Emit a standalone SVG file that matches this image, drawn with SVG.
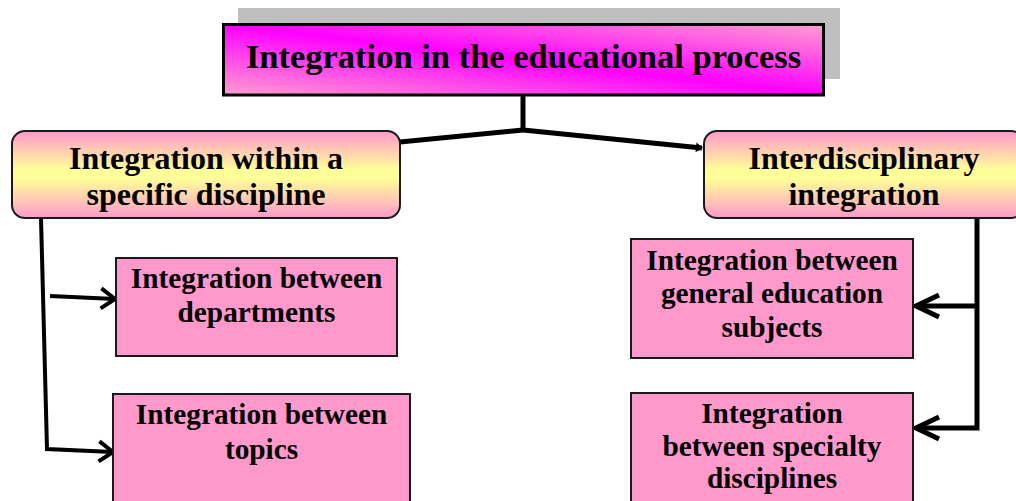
<svg xmlns="http://www.w3.org/2000/svg" width="1016" height="501" viewBox="0 0 1016 501">
  <style>
    text { font-family: "Liberation Serif", "Times New Roman", serif; font-weight: bold; fill: #000; text-anchor: middle; }
    .t-title { font-size: 34.5px; }
    .t-mid { font-size: 32px; }
    .t-low { font-size: 29.3px; }
    .box { fill: #ff99cc; stroke: #1a1a1a; stroke-width: 2; }
    .branch { fill: url(#yellowBand); stroke: #1a1a1a; stroke-width: 2; }
    .wire { fill: none; stroke: #000; stroke-linejoin: miter; stroke-linecap: butt; }
  </style>
  <defs>
    <linearGradient id="magentaCrease" x1="0" y1="1" x2="1" y2="0">
      <stop offset="0" stop-color="#ff9fcf"/>
      <stop offset="0.5" stop-color="#ff00ff"/>
      <stop offset="1" stop-color="#ff9fcf"/>
    </linearGradient>
    <linearGradient id="yellowBand" x1="0" y1="0" x2="0" y2="1">
      <stop offset="0" stop-color="#ff99cc"/>
      <stop offset="0.45" stop-color="#ffff99"/>
      <stop offset="0.55" stop-color="#ffff99"/>
      <stop offset="1" stop-color="#ff99cc"/>
    </linearGradient>
    <marker id="chevronSmall" markerUnits="userSpaceOnUse" markerWidth="40" markerHeight="40" viewBox="-20 -20 40 40" refX="0" refY="0" orient="auto" overflow="visible">
      <path d="M-14,-10 L0,0 L-14,10" fill="none" stroke="#000" stroke-width="4"/>
    </marker>
    <marker id="chevronLarge" markerUnits="userSpaceOnUse" markerWidth="50" markerHeight="50" viewBox="-25 -25 50 50" refX="0" refY="0" orient="auto" overflow="visible">
      <path d="M-23,-11 L0,0 L-23,11" fill="none" stroke="#000" stroke-width="5"/>
    </marker>
    <marker id="tip" markerUnits="userSpaceOnUse" markerWidth="12" markerHeight="12" viewBox="-8 -6 12 12" refX="0" refY="0" orient="auto" overflow="visible">
      <path d="M-6,-5 L1,0 L-6,5 Z" fill="#000"/>
    </marker>
  </defs>

  <!-- connectors -->
  <g id="connectors">
    <path class="wire" d="M523,95 L523,131" stroke-width="5"/>
    <path class="wire" d="M523,130 L400,142" stroke-width="5"/>
    <path class="wire" d="M523,130 L702,148" stroke-width="5" marker-end="url(#tip)"/>
    <path class="wire" d="M41,218 L47,449 L113,452" stroke-width="4" marker-end="url(#chevronSmall)"/>
    <path class="wire" d="M50,296 L115,299" stroke-width="4" marker-end="url(#chevronSmall)"/>
    <path class="wire" d="M977,218 L977,428 L916,428" stroke-width="5" marker-end="url(#chevronLarge)"/>
    <path class="wire" d="M977,306 L916,306" stroke-width="5" marker-end="url(#chevronLarge)"/>
  </g>

  <!-- root -->
  <g id="node-root">
    <rect x="238" y="8" width="602" height="71" fill="#bfbfbf"/>
    <rect x="223.5" y="24.5" width="600" height="70.5" fill="url(#magentaCrease)" stroke="#000" stroke-width="3"/>
    <text class="t-title" x="523.5" y="68">Integration in the educational process</text>
  </g>

  <!-- first-level branches -->
  <g id="node-within">
    <rect class="branch" x="12" y="131" width="388" height="87" rx="13" ry="13"/>
    <text class="t-mid" x="206" y="169">Integration within a</text>
    <text class="t-mid" x="206" y="205">specific discipline</text>
  </g>
  <g id="node-inter">
    <rect class="branch" x="704" y="131" width="320" height="87" rx="13" ry="13"/>
    <text class="t-mid" x="864" y="169">Interdisciplinary</text>
    <text class="t-mid" x="864" y="205">integration</text>
  </g>

  <!-- leaves -->
  <g id="node-departments">
    <rect class="box" x="116" y="258" width="281" height="98"/>
    <text class="t-low" x="256.5" y="288">Integration between</text>
    <text class="t-low" x="256.5" y="322">departments</text>
  </g>
  <g id="node-topics">
    <rect class="box" x="113" y="394" width="297" height="120"/>
    <text class="t-low" x="261.5" y="424">Integration between</text>
    <text class="t-low" x="261.5" y="459">topics</text>
  </g>
  <g id="node-general">
    <rect class="box" x="631" y="239" width="282" height="119"/>
    <text class="t-low" x="772" y="270">Integration between</text>
    <text class="t-low" x="772" y="303">general education</text>
    <text class="t-low" x="772" y="337">subjects</text>
  </g>
  <g id="node-specialty">
    <rect class="box" x="631" y="393" width="282" height="120"/>
    <text class="t-low" x="772" y="423">Integration</text>
    <text class="t-low" x="772" y="456">between specialty</text>
    <text class="t-low" x="772" y="488">disciplines</text>
  </g>
</svg>
